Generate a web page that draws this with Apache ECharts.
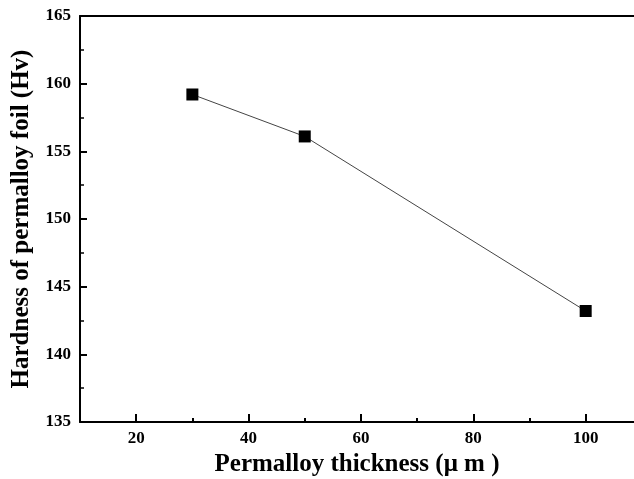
<!DOCTYPE html>
<html>
<head>
<meta charset="utf-8">
<script src="https://cdn.jsdelivr.net/npm/echarts@6/dist/echarts.min.js"></script>
<style>
  html, body { margin: 0; padding: 0; background: #fff; }
  #main { width: 634px; height: 479px; }
</style>
</head>
<body>
<div id="main"></div>
<script>
  // data
  const thickness = [30, 50, 100];
  const hardness = [159.2, 156.1, 143.2];
  const xMajorTicks = [20, 40, 60, 80, 100];
  const xMinorTicks = [30, 50, 70, 90];

  const chart = echarts.init(document.getElementById('main'));
  const font = 'Liberation Serif';

  // x range runs past the right edge of the picture (cropped), no right frame
  const xMin = 10, xMax = 108.6;

  const option = {
    animation: false,
    grid: { left: 80, top: 16, bottom: 57, right: 0, outerBoundsMode: 'none', containLabel: false },
    xAxis: [
      {
        type: 'value', min: xMin, max: xMax,
        splitLine: { show: false },
        axisLine: { lineStyle: { color: '#000', width: 2 } },
        axisTick: { inside: true, length: 8, customValues: xMajorTicks, lineStyle: { color: '#000', width: 2 } },
        axisLabel: { customValues: xMajorTicks, color: '#000', fontFamily: font, fontWeight: 'bold', fontSize: 17, margin: 8 },
        name: 'Permalloy thickness (μ m )',
        nameLocation: 'middle', nameGap: 29,
        nameTextStyle: { color: '#000', fontFamily: font, fontWeight: 'bold', fontSize: 25 }
      },
      {
        type: 'value', min: xMin, max: xMax, position: 'bottom',
        splitLine: { show: false },
        axisLine: { show: false },
        axisTick: { inside: true, length: 4, customValues: xMinorTicks, lineStyle: { color: '#000', width: 2 } },
        axisLabel: { show: false }
      },
      {
        type: 'value', min: xMin, max: xMax, position: 'top',
        splitLine: { show: false },
        axisLine: { lineStyle: { color: '#000', width: 2 } },
        axisTick: { show: false },
        axisLabel: { show: false }
      }
    ],
    yAxis: {
      type: 'value', min: 135, max: 165, interval: 5,
      splitLine: { show: false },
      axisLine: { lineStyle: { color: '#000', width: 2 } },
      axisTick: { inside: true, length: 7, lineStyle: { color: '#000', width: 2 } },
      minorTick: { show: true, splitNumber: 2, length: 4, lineStyle: { color: '#000', width: 1.5 } },
      axisLabel: { color: '#000', fontFamily: font, fontWeight: 'bold', fontSize: 17, margin: 9 },
      name: 'Hardness of permalloy foil (Hv)',
      nameLocation: 'middle', nameGap: 46,
      nameTextStyle: { color: '#000', fontFamily: font, fontWeight: 'bold', fontSize: 25 }
    },
    series: [{
      type: 'line',
      data: thickness.map((x, i) => [x, hardness[i]]),
      symbol: 'rect', symbolSize: 12,
      itemStyle: { color: '#000' },
      lineStyle: { color: '#444', width: 1 }
    }]
  };

  chart.setOption(option);
</script>
</body>
</html>
